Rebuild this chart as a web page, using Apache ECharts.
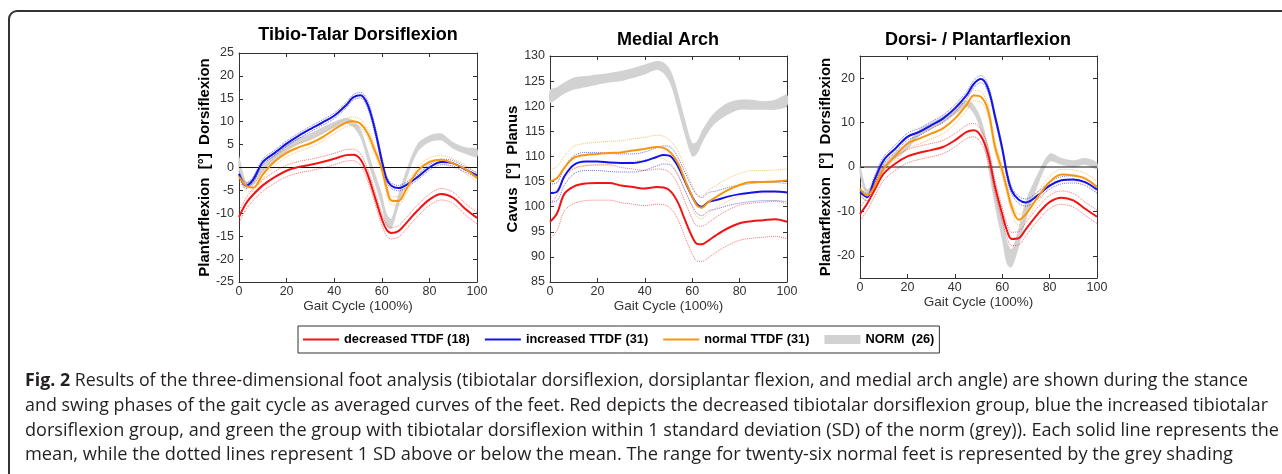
<!DOCTYPE html>
<html>
<head>
<meta charset="utf-8">
<title>Fig. 2</title>
<script src="https://cdn.jsdelivr.net/npm/echarts@6/dist/echarts.min.js"></script>
<style>
html,body{margin:0;padding:0;background:#fff;}
#chart{width:1282px;height:474px;}
</style>
</head>
<body>
<div id="chart"></div>
<script>
'use strict';
// gait cycle sample points (%)
var gaitX = [0,3,6,10,15,20,25,30,35,40,45,48,51,54,57,60,62,64,67,70,75,80,85,90,95,100];

// ---- Tibio-Talar Dorsiflexion ----
var ttRed    = [-10.8,-7.8,-5.9,-3.9,-2.1,-0.7,0.1,0.6,1.2,1.9,2.7,2.8,1.8,-1.5,-6.3,-11.2,-13.6,-14.3,-13.9,-12.3,-9.4,-7.0,-5.8,-6.6,-9.0,-11.0];
var ttRedHi  = [-9.6,-6.6,-4.7,-2.7,-0.9,0.5,1.3,1.8,2.4,3.1,3.9,4.0,3.0,-0.3,-5.1,-10.0,-12.4,-13.1,-12.7,-11.1,-8.2,-5.8,-4.6,-5.4,-7.8,-9.8];
var ttRedLo  = [-12.1,-9.1,-7.2,-5.2,-3.4,-2.0,-1.2,-0.7,-0.1,0.6,1.4,1.5,0.5,-2.8,-7.6,-12.5,-14.9,-15.6,-15.2,-13.6,-10.7,-8.3,-7.1,-7.9,-10.3,-12.3];
var ttBlue   = [-1.4,-4.0,-2.6,1.2,3.2,5.2,6.9,8.4,9.8,11.3,13.6,15.3,15.8,13.8,8.5,1.5,-2.5,-4.0,-4.5,-3.9,-2.1,0.0,1.2,0.9,-0.4,-1.7];
var ttBlueHi = [-0.8,-3.4,-2.0,1.8,3.8,5.8,7.5,9.0,10.4,11.9,14.2,15.9,16.4,14.6,9.4,2.4,-1.8,-3.4,-3.9,-3.3,-1.5,0.6,1.8,1.5,0.2,-1.1];
var ttBlueLo = [-2.0,-4.6,-3.2,0.6,2.6,4.6,6.3,7.8,9.2,10.7,13.0,14.7,15.2,13.0,7.6,0.6,-3.2,-4.6,-5.1,-4.5,-2.7,-0.6,0.6,0.3,-1.0,-2.3];
var ttOrange   = [-2.0,-4.0,-4.4,-1.5,1.3,3.2,4.4,5.3,6.6,8.3,9.8,10.1,9.6,7.5,3.8,-0.3,-4.5,-7.2,-7.3,-5.0,-0.8,1.2,1.7,0.9,-0.3,-2.3];
var ttOrangeHi = [-1.1,-3.1,-3.5,-0.6,2.2,4.1,5.3,6.2,7.5,9.2,10.7,11.0,10.5,8.4,4.7,0.6,-3.6,-6.3,-6.4,-4.1,0.1,2.1,2.6,1.8,0.6,-1.4];
var ttOrangeLo = [-2.9,-4.9,-5.3,-2.4,0.4,2.3,3.5,4.4,5.7,7.4,8.9,9.2,8.7,6.6,2.9,-1.2,-5.4,-8.1,-8.2,-5.9,-1.7,0.3,0.8,0.0,-1.2,-3.2];
var ttNormLo = [-1.0,-4.5,-4.0,-1.0,1.5,3.5,5.0,6.0,7.3,8.6,9.5,8.8,6.5,1.5,-3.5,-8.6,-13.0,-13.4,-8.6,-3.2,3.3,5.5,5.9,4.1,3.0,2.3];
var ttNormHi = [2.5,-3.0,-2.5,0.5,3.0,5.0,6.5,7.5,8.8,10.0,10.8,10.3,8.5,4.0,-1.0,-5.7,-10.0,-11.2,-5.7,-1.0,5.2,7.0,7.4,5.5,4.4,4.1];

// ---- Medial Arch ----
var maRed    = [97.0,98.7,102.5,104.0,104.6,104.7,104.7,104.2,103.9,103.6,103.9,103.8,103.0,100.8,97.3,94.0,92.6,92.5,93.3,94.3,95.7,96.7,97.1,97.3,97.5,97.0];
var maRedHi  = [100.6,102.3,106.1,107.6,108.2,108.3,108.3,107.8,107.5,107.2,107.5,107.4,106.6,104.4,100.9,97.6,96.2,96.1,96.9,97.9,99.3,100.3,100.7,100.9,101.1,100.6];
var maRedLo  = [93.6,95.3,99.1,100.6,101.2,101.3,101.3,100.8,100.5,100.2,100.5,100.4,99.6,97.4,93.9,90.6,89.2,89.1,89.9,90.9,92.3,93.3,93.7,93.9,94.1,93.6];
var maBlue   = [102.7,103.0,106.0,108.3,109.0,109.0,108.8,108.7,108.7,109.1,109.9,110.3,110.0,108.0,105.0,102.0,100.5,100.0,101.0,101.3,102.0,102.5,102.8,103.0,103.0,102.8];
var maBlueHi = [104.5,104.8,107.8,110.1,110.8,110.8,110.6,110.5,110.5,110.9,111.7,112.1,111.8,109.8,106.8,103.8,102.3,101.8,102.8,103.1,103.8,104.3,104.6,104.8,104.8,104.6];
var maBlueLo = [100.9,101.2,104.2,106.5,107.2,107.2,107.0,106.9,106.9,107.3,108.1,108.5,108.2,106.2,103.2,100.2,98.7,98.2,99.2,99.5,100.2,100.7,101.0,101.2,101.2,101.0];
var maOrange   = [105.0,105.7,107.7,109.7,110.3,110.5,110.7,110.8,111.2,111.5,111.9,111.7,110.7,108.7,105.3,102.0,100.2,99.8,101.0,101.9,103.3,104.3,104.9,104.9,105.0,105.2];
var maOrangeHi = [107.3,108.0,110.0,112.0,112.6,112.8,113.0,113.1,113.5,113.8,114.2,114.0,113.0,111.0,107.6,104.3,102.5,102.1,103.3,104.2,105.6,106.6,107.2,107.2,107.3,107.5];
var maOrangeLo = [102.8,103.5,105.5,107.5,108.1,108.3,108.5,108.6,109.0,109.3,109.7,109.5,108.5,106.5,103.1,99.8,98.0,97.6,98.8,99.7,101.1,102.1,102.7,102.7,102.8,103.0];
var maNormLo = [120.7,121.5,122.5,123.3,123.8,124.3,124.7,125.0,125.6,126.3,127.2,126.5,124.2,119.3,114.0,110.0,110.5,112.5,115.0,116.7,118.3,119.3,119.3,119.3,119.3,120.0];
var maNormHi = [123.3,123.8,124.7,125.7,126.0,126.3,126.6,127.0,127.6,128.3,129.0,128.7,127.0,122.7,117.3,112.7,113.0,115.0,117.3,119.0,120.7,121.3,121.3,121.0,121.3,122.3];

// ---- Dorsi- / Plantarflexion ----
var dpRed    = [-10.6,-8.3,-5.3,-1.5,0.8,2.4,3.2,3.8,4.5,6.0,7.9,8.3,7.0,3.0,-4.5,-10.6,-14.3,-16.2,-16.0,-14.0,-10.6,-7.9,-6.9,-7.5,-9.4,-11.2];
var dpRedHi  = [-9.1,-6.8,-3.8,0.0,2.3,3.9,4.7,5.3,6.0,7.5,9.4,9.8,8.5,4.5,-3.0,-9.1,-12.8,-14.7,-14.5,-12.5,-9.1,-6.4,-5.4,-6.0,-7.9,-9.7];
var dpRedLo  = [-12.1,-9.8,-6.8,-3.0,-0.7,0.9,1.7,2.3,3.0,4.5,6.4,6.8,5.5,1.5,-6.0,-12.1,-15.8,-17.7,-17.5,-15.5,-12.1,-9.4,-8.4,-9.0,-10.9,-12.7];
var dpBlue   = [-5.7,-6.8,-3.0,1.5,4.2,6.8,7.9,9.4,10.9,13.2,16.2,18.7,19.8,17.7,11.3,4.2,-1.5,-5.3,-7.4,-8.0,-6.4,-4.2,-3.0,-2.8,-3.4,-5.1];
var dpBlueHi = [-4.9,-6.0,-2.2,2.3,5.0,7.6,8.7,10.2,11.7,14.0,17.0,19.5,20.6,18.5,12.1,5.0,-0.7,-4.5,-6.6,-7.2,-5.6,-3.4,-2.2,-2.0,-2.6,-4.3];
var dpBlueLo = [-6.5,-7.6,-3.8,0.7,3.4,6.0,7.1,8.6,10.1,12.4,15.4,17.9,19.0,16.9,10.5,3.4,-2.3,-6.1,-8.2,-8.8,-7.2,-5.0,-3.8,-3.6,-4.2,-5.9];
var dpOrange   = [-4.9,-6.4,-4.5,-0.4,2.6,5.3,6.4,7.5,8.7,10.9,14.0,16.1,15.8,12.8,4.5,-0.8,-4.9,-9.0,-11.9,-10.6,-6.8,-3.4,-1.7,-1.9,-2.6,-4.5];
var dpOrangeHi = [-3.7,-5.2,-3.3,0.8,3.8,6.5,7.6,8.7,9.9,12.1,15.2,17.3,17.0,14.0,5.7,0.4,-3.7,-7.8,-10.7,-9.4,-5.6,-2.2,-0.5,-0.7,-1.4,-3.3];
var dpOrangeLo = [-6.1,-7.6,-5.7,-1.6,1.4,4.1,5.2,6.3,7.5,9.7,12.8,14.9,14.6,11.6,3.3,-2.0,-6.1,-10.2,-13.1,-11.8,-8.0,-4.6,-2.9,-3.1,-3.8,-5.7];
var dpNormLo = [-2.0,-6.5,-4.5,-1.0,1.8,4.0,7.0,8.5,10.0,11.8,13.5,12.0,8.0,0.0,-9.0,-16.6,-21.9,-22.6,-18.1,-12.0,-4.2,1.2,0.5,0.0,0.5,-0.5];
var dpNormHi = [0.5,-5.0,-3.0,0.5,3.3,5.5,8.5,10.0,11.5,13.3,15.0,14.0,11.0,5.0,-4.0,-10.6,-16.6,-18.5,-13.6,-7.5,-1.5,3.0,2.0,1.5,2.0,1.0];

var panelTitles = ['Tibio-Talar Dorsiflexion', 'Medial Arch', 'Dorsi- / Plantarflexion'];
var yNames = ['Plantarflexion  [\u00b0]  Dorsiflexion', 'Cavus  [\u00b0]  Planus', 'Plantarflexion  [\u00b0]  Dorsiflexion'];
var xName = 'Gait Cycle (100%)';
var groupNames = ['decreased TTDF (18)', 'increased TTDF (31)', 'normal TTDF (31)', 'NORM  (26)'];
var dpTicks = [-20, -10, 0, 10, 20];
var zeroLine = [[0, 0], [100, 0]];

var captionLines = [
	'{b|Fig. 2} Results of the three-dimensional foot analysis (tibiotalar dorsiflexion, dorsiplantar flexion, and medial arch angle) are shown during the stance',
	'and swing phases of the gait cycle as averaged curves of the feet. Red depicts the decreased tibiotalar dorsiflexion group, blue the increased tibiotalar',
	'dorsiflexion group, and green the group with tibiotalar dorsiflexion within 1 standard deviation (SD) of the norm (grey)). Each solid line represents the',
	'mean, while the dotted lines represent 1 SD above or below the mean. The range for twenty-six normal feet is represented by the grey shading'
];

var RED = '#f01414', BLUE = '#1414e6', ORANGE = '#f7960c', GREY = '#d2d2d2';
var AXIS_COLOR = '#333', FONT = '"Liberation Sans", Arial, sans-serif';
var LINE_ICON = 'path://M0,0H36V2H0Z';

var grids = [
	{left: 239, top: 53, width: 238, height: 229},
	{left: 550, top: 56, width: 237, height: 226},
	{left: 860, top: 56, width: 237, height: 222}
];

function toPairs(vals) {
	return gaitX.map(function (x, i) { return [x, vals[i]]; });
}

function lineSeries(name, k, vals, color, dotted) {
	return {
		name: name,
		type: 'line',
		xAxisIndex: k * 2,
		yAxisIndex: k * 2,
		data: toPairs(vals),
		symbol: 'none',
		smooth: 0.35,
		silent: true,
		z: dotted ? 3 : 5,
		itemStyle: {color: color},
		lineStyle: {color: color, width: dotted ? 1 : 2, type: dotted ? 'dotted' : 'solid', opacity: dotted ? 0.6 : 1}
	};
}

// grey norm range drawn as one polygon (upper edge, then lower edge backwards)
function bandSeries(k, lo, hi) {
	return {
		name: groupNames[3],
		type: 'custom',
		xAxisIndex: k * 2,
		yAxisIndex: k * 2,
		z: 1,
		silent: true,
		itemStyle: {color: GREY},
		data: gaitX.map(function (x, i) { return [x, lo[i], hi[i]]; }),
		renderItem: function (params, api) {
			if (params.dataIndex !== 0) return;
			var pts = [], i;
			for (i = 0; i < gaitX.length; i++) pts.push(api.coord([gaitX[i], hi[i]]));
			for (i = gaitX.length - 1; i >= 0; i--) pts.push(api.coord([gaitX[i], lo[i]]));
			return {type: 'polygon', shape: {points: pts, smooth: 0.3}, style: {fill: GREY}};
		}
	};
}

function zeroSeries(k) {
	return {
		name: 'zero', type: 'line', xAxisIndex: k * 2, yAxisIndex: k * 2,
		data: zeroLine, symbol: 'none', silent: true, z: 4,
		lineStyle: {color: '#111', width: 1}
	};
}

var tickStyle = {show: true, inside: true, length: 4, lineStyle: {color: AXIS_COLOR, width: 1}};
var lineAxis = {show: true, onZero: false, lineStyle: {color: AXIS_COLOR, width: 1}};

function makeX(k) {
	return [{
		type: 'value', gridIndex: k, min: 0, max: 100, interval: 20, position: 'bottom',
		name: xName, nameLocation: 'middle', nameGap: 16,
		nameTextStyle: {fontFamily: FONT, fontSize: 13.5, color: '#333'},
		axisLine: lineAxis, axisTick: tickStyle, splitLine: {show: false},
		axisLabel: {margin: 3, color: '#333', fontFamily: FONT, fontSize: 12.5}
	}, {
		type: 'value', gridIndex: k, min: 0, max: 100, interval: 20, position: 'top',
		axisLine: lineAxis, axisTick: tickStyle, splitLine: {show: false}, axisLabel: {show: false}
	}];
}

function makeY(k, min, max, interval, gap, custom) {
	var left = {
		type: 'value', gridIndex: k, min: min, max: max, interval: interval, position: 'left',
		name: yNames[k], nameLocation: 'middle', nameGap: gap,
		nameTextStyle: {fontFamily: FONT, fontSize: 15, fontWeight: 'bold', color: '#000'},
		axisLine: lineAxis, axisTick: tickStyle, splitLine: {show: false},
		axisLabel: {margin: 5, color: '#333', fontFamily: FONT, fontSize: 12.5}
	};
	var right = {
		type: 'value', gridIndex: k, min: min, max: max, interval: interval, position: 'right',
		axisLine: lineAxis, axisTick: tickStyle, splitLine: {show: false}, axisLabel: {show: false}
	};
	if (custom) {
		left.axisLabel.customValues = custom;
		left.axisTick = Object.assign({}, tickStyle, {customValues: custom});
		right.axisTick = Object.assign({}, tickStyle, {customValues: custom});
	}
	return [left, right];
}

var series = [
	bandSeries(0, ttNormLo, ttNormHi), zeroSeries(0),
	lineSeries('ttRedHi', 0, ttRedHi, RED, true), lineSeries('ttRedLo', 0, ttRedLo, RED, true),
	lineSeries('ttBlueHi', 0, ttBlueHi, BLUE, true), lineSeries('ttBlueLo', 0, ttBlueLo, BLUE, true),
	lineSeries('ttOrHi', 0, ttOrangeHi, ORANGE, true), lineSeries('ttOrLo', 0, ttOrangeLo, ORANGE, true),
	lineSeries(groupNames[0], 0, ttRed, RED), lineSeries(groupNames[1], 0, ttBlue, BLUE), lineSeries(groupNames[2], 0, ttOrange, ORANGE),

	bandSeries(1, maNormLo, maNormHi),
	lineSeries('maRedHi', 1, maRedHi, RED, true), lineSeries('maRedLo', 1, maRedLo, RED, true),
	lineSeries('maBlueHi', 1, maBlueHi, BLUE, true), lineSeries('maBlueLo', 1, maBlueLo, BLUE, true),
	lineSeries('maOrHi', 1, maOrangeHi, ORANGE, true), lineSeries('maOrLo', 1, maOrangeLo, ORANGE, true),
	lineSeries(groupNames[0], 1, maRed, RED), lineSeries(groupNames[1], 1, maBlue, BLUE), lineSeries(groupNames[2], 1, maOrange, ORANGE),

	bandSeries(2, dpNormLo, dpNormHi), zeroSeries(2),
	lineSeries('dpRedHi', 2, dpRedHi, RED, true), lineSeries('dpRedLo', 2, dpRedLo, RED, true),
	lineSeries('dpBlueHi', 2, dpBlueHi, BLUE, true), lineSeries('dpBlueLo', 2, dpBlueLo, BLUE, true),
	lineSeries('dpOrHi', 2, dpOrangeHi, ORANGE, true), lineSeries('dpOrLo', 2, dpOrangeLo, ORANGE, true),
	lineSeries(groupNames[0], 2, dpRed, RED), lineSeries(groupNames[1], 2, dpBlue, BLUE), lineSeries(groupNames[2], 2, dpOrange, ORANGE)
];

// caption is set in a condensed face: squeeze each line to its printed width
var capFont = '18.5px "Open Sans", sans-serif';
var capBold = 'bold 18.5px "Open Sans", sans-serif';
var capRight = [1248, 1268, 1279, 1233];
var capY = [381, 406, 431, 455];
var ctx = document.createElement('canvas').getContext('2d');
function capWidth(t) {
	var m = t.match(/^\{b\|(.*?)\}(.*)$/);
	if (!m) { ctx.font = capFont; return ctx.measureText(t).width; }
	ctx.font = capBold;
	var w = ctx.measureText(m[1]).width;
	ctx.font = capFont;
	return w + ctx.measureText(m[2]).width;
}

var graphics = [
	// figure frame (top + left edge, rounded corner)
	{type: 'line', shape: {x1: 17, y1: 11, x2: 1282, y2: 11}, style: {stroke: '#333', lineWidth: 2}},
	{type: 'line', shape: {x1: 9, y1: 19, x2: 9, y2: 474}, style: {stroke: '#333', lineWidth: 2}},
	{type: 'arc', shape: {cx: 17, cy: 19, r: 8, startAngle: Math.PI, endAngle: Math.PI * 1.5, clockwise: true}, style: {stroke: '#333', lineWidth: 2, fill: null}}
];
var titleX = [358, 668, 978], titleY = [35, 40, 40];
panelTitles.forEach(function (t, i) {
	graphics.push({type: 'text', x: titleX[i], y: titleY[i], style: {
		text: t, textAlign: 'center', textVerticalAlign: 'middle',
		font: 'bold 18px ' + FONT, fill: '#000'}});
});
captionLines.forEach(function (t, i) {
	graphics.push({type: 'text', x: 25, y: capY[i], scaleX: (capRight[i] - 25) / capWidth(t), style: {
		text: t, textVerticalAlign: 'middle', font: capFont, fill: '#231f20',
		rich: {b: {font: capBold, fill: '#231f20'}}}});
});

var chart = echarts.init(document.getElementById('chart'), null, {renderer: 'canvas'});
var option = {
	backgroundColor: '#fff',
	animation: false,
	grid: grids,
	xAxis: makeX(0).concat(makeX(1), makeX(2)),
	yAxis: makeY(0, -25, 25, 5, 26).concat(makeY(1, 85, 130, 5, 27), makeY(2, -25, 25, 5, 25, dpTicks)),
	legend: {
		data: [
			{name: groupNames[0], icon: LINE_ICON},
			{name: groupNames[1], icon: LINE_ICON},
			{name: groupNames[2], icon: LINE_ICON},
			{name: groupNames[3], icon: 'rect'}
		],
		left: 298, top: 326, padding: [7, 5, 7, 5], itemGap: 15, itemWidth: 36, itemHeight: 9,
		borderColor: '#333', borderWidth: 1, selectedMode: false,
		textStyle: {fontFamily: FONT, fontWeight: 'bold', fontSize: 12.8, color: '#000'}
	},
	graphic: graphics,
	series: series
};
chart.setOption(option);
</script>
</body>
</html>
